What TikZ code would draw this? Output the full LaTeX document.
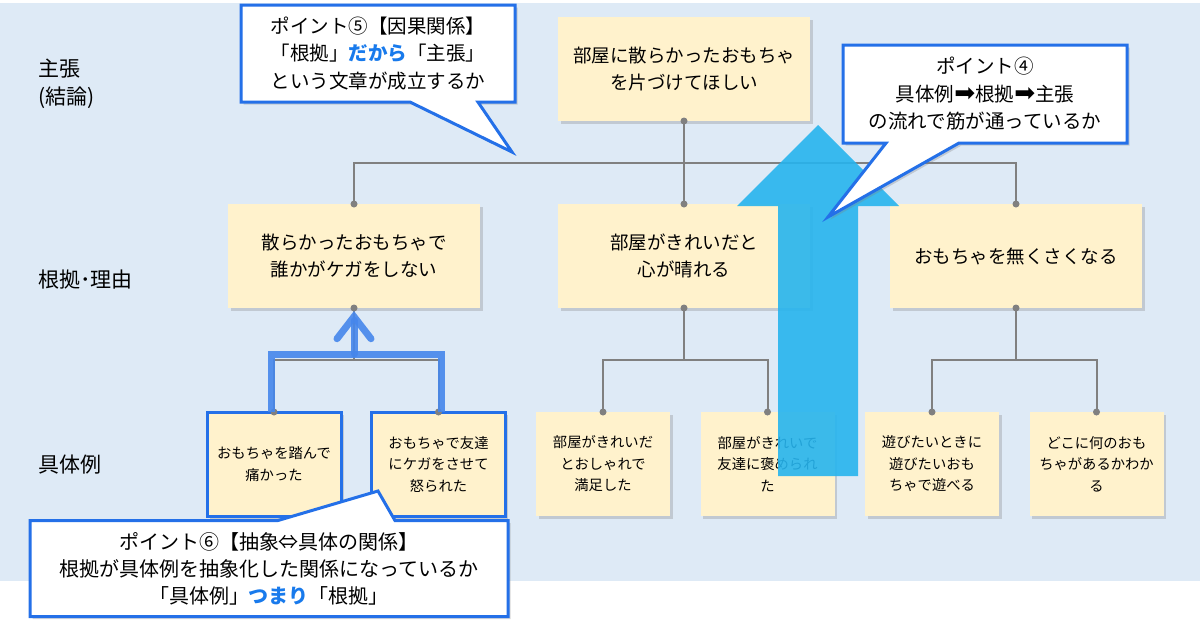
\documentclass[tikz,border=0pt]{standalone}
\usepackage{fontspec}
\setmainfont{Noto Sans CJK JP}
\newfontfamily\symfont{DejaVu Sans}
\usetikzlibrary{positioning,shadows,shapes.callouts,arrows.meta}

\definecolor{bgblue}{RGB}{222,234,246}
\definecolor{notefill}{RGB}{255,242,204}
\definecolor{linegray}{RGB}{128,128,128}
\definecolor{pointblue}{RGB}{36,112,232}
\definecolor{flowblue}{RGB}{70,135,236}
\definecolor{flowcyan}{RGB}{38,180,238}
\definecolor{keyblue}{RGB}{24,122,236}

\tikzset{
  note/.style={fill=notefill, minimum width=252pt, minimum height=104pt, outer sep=0pt,
    align=center, font=\fontsize{18.5}{27}\selectfont,
    drop shadow={shadow xshift=2.5pt, shadow yshift=-2.5pt, opacity=0.3}},
  smallnote/.style={note, minimum width=134pt, font=\fontsize{14.3}{21.5}\selectfont},
  picked/.style={draw=pointblue, line width=3pt},
  conn/.style={draw=linegray, line width=2pt},
  flowline/.style={draw=flowblue, line width=7pt, opacity=0.9},
  tip/.style={rectangle callout, draw=pointblue, line width=3pt, fill=white, inner sep=0pt,
    align=center, font=\fontsize{19.5}{27.5}\selectfont,
    drop shadow={shadow xshift=2.5pt, shadow yshift=-2.5pt, opacity=0.3}},
  rowlabel/.style={anchor=west, align=left, inner sep=0pt, font=\fontsize{21}{28}\selectfont}
}
\newcommand\flowto{{\symfont\fontsize{25}{27}\selectfont ➡}}

\begin{document}
\begin{tikzpicture}[x=1pt, y=-1pt]
\useasboundingbox (0,0) rectangle (1200,633);
\fill[bgblue] (0,3) rectangle (1200,581);

\node[rowlabel] (lblclaim) at (38,84) {主張\\(結論)};
\node[rowlabel] (lblreason) at (38,280) {根拠･理由};
\node[rowlabel] (lblcase) at (38,465) {具体例};

\node[note] (claim) at (684,69) {部屋に散らかったおもちゃ\\を片づけてほしい};
\node[note, below=83pt of claim] (why2) {部屋がきれいだと\\心が晴れる};
\node[note, left=78pt of why2] (why1) {散らかったおもちゃで\\誰かがケガをしない};
\node[note, right=80pt of why2] (why3) {おもちゃを無くさくなる};

\node[smallnote, picked] (eg1) at (274,464) {おもちゃを踏んで\\痛かった};
\node[smallnote, picked, right=30.5pt of eg1] (eg2) {おもちゃで友達\\にケガをさせて\\怒られた};
\node[smallnote, right=30.5pt of eg2] (eg3) {部屋がきれいだ\\とおしゃれで\\満足した};
\node[smallnote, right=30.5pt of eg3] (eg4) {部屋がきれいで\\友達に褒められ\\た};
\node[smallnote, right=30.5pt of eg4] (eg5) {遊びたいときに\\遊びたいおも\\ちゃで遊べる};
\node[smallnote, right=30.5pt of eg5] (eg6) {どこに何のおも\\ちゃがあるかわか\\る};

\coordinate (hub) at (684,163);
\draw[conn] (claim.south) -- (why2.north);
\draw[conn] (why1.north) |- (hub) -| (why3.north);
\draw[conn] (why1.south) -- ++(0,52) coordinate (hub1);
\draw[conn] (eg1.north) |- (hub1) -| (eg2.north);
\draw[conn] (why2.south) -- ++(0,52) coordinate (hub2);
\draw[conn] (eg3.north) |- (hub2) -| (eg4.north);
\draw[conn] (why3.south) -- ++(0,52) coordinate (hub3);
\draw[conn] (eg5.north) |- (hub3) -| (eg6.north);
\foreach \p in {claim.south, why1.north, why2.north, why3.north, why1.south, why2.south, why3.south,
  eg1.north, eg2.north, eg3.north, eg4.north, eg5.north, eg6.north}
  \fill[linegray] (\p) circle (3.5pt);

\draw[flowline] ([xshift=-3pt]eg1.north) |- ([yshift=6pt]hub1) -| ([xshift=3pt]eg2.north);
\draw[flowline, line cap=round, -{Straight Barb[length=22pt, width=34pt, line cap=round]}]
  ([yshift=6pt]hub1) -- ([yshift=-3pt]why1.south);

\fill[flowcyan, opacity=0.9] (778,476) -- (778,206) -- (737,206) -- (818,125)
  -- (899,206) -- (858,206) -- (858,476) -- cycle;

\node[tip, minimum width=274pt, minimum height=97pt, callout pointer width=68pt,
  callout absolute pointer={(512,152)}] (point5) at (378,53.5)
  {ポイント⑤【因果関係】\\「根拠」{\bfseries\color{keyblue}だから}「主張」\\という文章が成立するか};
\node[tip, minimum width=284pt, minimum height=98pt, callout pointer width=73pt,
  callout absolute pointer={(828,217)}] (point4) at (985,94)
  {ポイント④\\具体例\flowto 根拠\flowto 主張\\の流れで筋が通っているか};
\node[tip, minimum width=478pt, minimum height=96pt, callout pointer width=117pt,
  callout absolute pointer={(378,491)}, font=\fontsize{20}{27}\selectfont] (point6) at (269,568.5)
  {ポイント⑥【抽象⇔具体の関係】\\根拠が具体例を抽象化した関係になっているか\\「具体例」{\bfseries\color{keyblue}つまり}「根拠」};
\end{tikzpicture}
\end{document}
